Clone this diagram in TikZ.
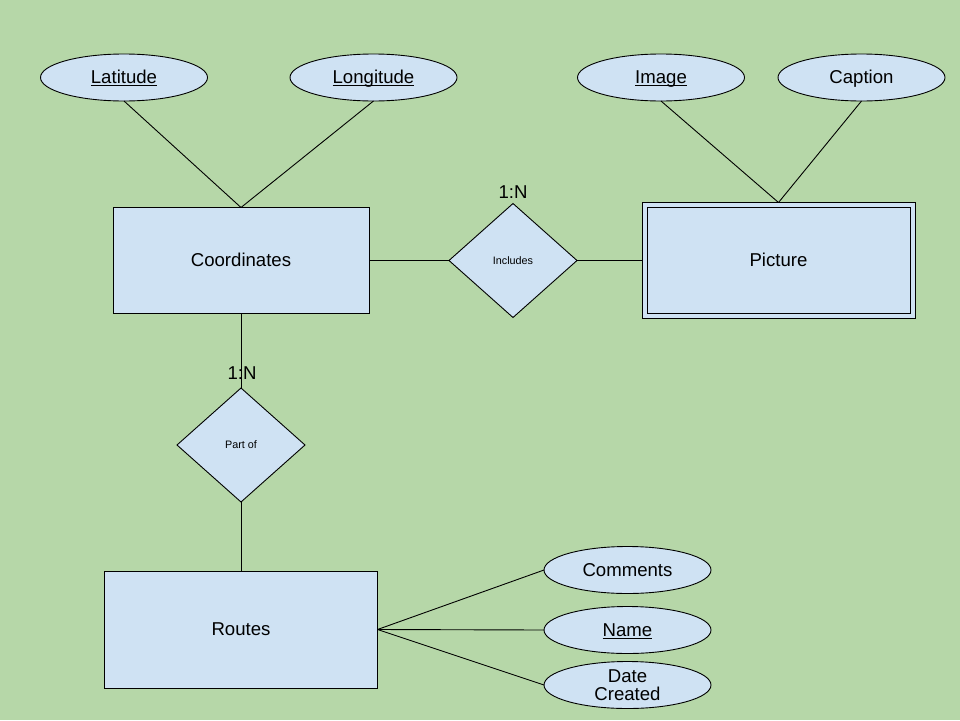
\documentclass[tikz,border=0pt]{standalone}
\usepackage{fontspec}
\setmainfont{Liberation Sans}
\usetikzlibrary{shapes.geometric}
\definecolor{bg}{HTML}{B6D7A8}
\definecolor{fillb}{HTML}{CFE2F3}
\newcommand\keyattr[1]{\smash{\underline{\smash{#1}}}\vphantom{A}}
\newcommand\plainattr[1]{\smash{#1}\vphantom{A}}
\begin{document}
\begin{tikzpicture}[x=1pt,y=-1pt,
  every node/.style={inner sep=0pt,outer sep=0pt},
  ent/.style={draw=black,fill=fillb,line width=0.9pt,rectangle,font=\fontsize{18.6}{21}\selectfont},
  attr/.style={draw=black,fill=fillb,line width=0.9pt,ellipse,minimum width=167pt,minimum height=47pt,font=\fontsize{18.6}{20}\selectfont,align=center},
  rel/.style={draw=black,fill=fillb,line width=0.9pt,diamond,minimum width=128pt,minimum height=114pt,font=\fontsize{10.8}{12}\selectfont},
  lnk/.style={draw=black,line width=0.9pt},
  card/.style={font=\fontsize{18.6}{20}\selectfont}]
\fill[bg] (0,0) rectangle (960,720);
\useasboundingbox (0,0) rectangle (960,720);
% attributes top
\node[attr] (lat) at (124,77.5) {\keyattr{Latitude}};
\node[attr] (lon) at (373.5,77.5) {\keyattr{Longitude}};
\node[attr] (img) at (661,77.5) {\keyattr{Image}};
\node[attr] (cap) at (861.5,77.5) {\plainattr{Caption}};
% entities
\node[ent,minimum width=256pt,minimum height=106pt] (coord) at (241,260.5) {\plainattr{Coordinates}};
\node[ent,minimum width=273pt,minimum height=116pt] (pic) at (778.5,260.5) {};
\node[draw=black,line width=0.9pt,minimum width=263pt,minimum height=106pt,font=\fontsize{18.6}{21}\selectfont] (picin) at (778.5,260.5) {\plainattr{Picture}};
\node[ent,minimum width=273pt,minimum height=117pt] (routes) at (241,629.5) {\plainattr{Routes}};
% relationships
\node[rel] (inc) at (513,260.5) {\plainattr{Includes}};
\node[rel] (part) at (241,445) {\plainattr{Part of}};
\node[card] (c1) at (513,192) {\plainattr{1:N}};
\node[card] (c2) at (242,373) {\plainattr{1:N}};
% bottom attributes
\node[attr] (com) at (627.5,570) {\plainattr{Comments}};
\node[attr] (nam) at (627.5,630) {\keyattr{Name}};
\node[attr] (dat) at (627.5,685) {Date\\[-2pt]Created};
% connectors
\draw[lnk] (lat.south) -- (coord.north);
\draw[lnk] (lon.south) -- (coord.north);
\draw[lnk] (img.south) -- (pic.north);
\draw[lnk] (cap.south) -- (pic.north);
\draw[lnk] (coord.east) -- (inc.west);
\draw[lnk] (inc.east) -- (pic.west);
\draw[lnk] (coord.south) -- (part.north);
\draw[lnk] (part.south) -- (routes.north);
\draw[lnk] (routes.east) -- (com.west);
\draw[lnk] (routes.east) -- (nam.west);
\draw[lnk] (routes.east) -- (dat.west);
\end{tikzpicture}
\end{document}
